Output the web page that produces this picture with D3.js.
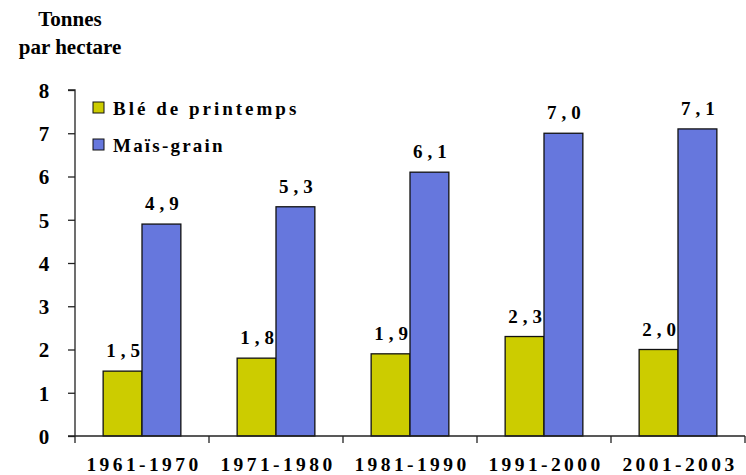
<!DOCTYPE html>
<html>
<head>
<meta charset="UTF-8">
<script src="https://d3js.org/d3.v7.min.js"></script>
</head>
<body style="margin:0">
<svg width="746" height="475"></svg>
<script>
  // donnees
  var periodes = ["1961-1970", "1971-1980", "1981-1990", "1991-2000", "2001-2003"];
  var series = ["Bl\u00e9 de printemps", "Ma\u00efs-grain"];
  var ble = [1.5, 1.8, 1.9, 2.3, 2.0];
  var mais = [4.9, 5.3, 6.1, 7.0, 7.1];
  var couleurs = ["#cccc00", "#6677dd"];
  var yTicks = [0, 1, 2, 3, 4, 5, 6, 7, 8];

  function serif(sel, taille) {
    return sel.attr("font-family", "Liberation Serif")
      .style("font-family", "'Liberation Serif'")
      .attr("font-weight", "bold")
      .attr("font-size", taille).attr("fill", "#000");
  }

  var svg = d3.select("svg");
  var x0 = 75, x1 = 745, yTop = 90, yBase = 436;

  var x = d3.scaleBand().domain(periodes).range([x0, x1]).paddingInner(0.42).paddingOuter(0.21);
  var xs = d3.scaleBand().domain(series).range([0, x.bandwidth()]);
  var y = d3.scaleLinear().domain([0, 8]).range([yBase, yTop]);

  var donnees = periodes.map(function (p, i) {
    return { periode: p, valeurs: [ble[i], mais[i]] };
  });

  // barres
  var groupes = svg.append("g").selectAll("g").data(donnees).enter().append("g")
    .attr("transform", function (d) { return "translate(" + x(d.periode) + ",0)"; });

  groupes.selectAll("rect").data(function (d) {
    return d.valeurs.map(function (v, j) { return { serie: series[j], v: v, j: j }; });
  }).enter().append("rect")
    .attr("x", function (d) { return xs(d.serie); })
    .attr("y", function (d) { return y(d.v); })
    .attr("width", xs.bandwidth())
    .attr("height", function (d) { return yBase - y(d.v); })
    .attr("fill", function (d) { return couleurs[d.j]; })
    .attr("stroke", "#111")
    .attr("stroke-width", 1.3);

  var etiquettes = groupes.selectAll("text").data(function (d) {
    return d.valeurs.map(function (v, j) { return { serie: series[j], v: v }; });
  }).enter().append("text")
    .attr("x", function (d) { return xs(d.serie) + xs.bandwidth() / 2 + 3; })
    .attr("y", function (d) { return y(d.v) - 14; })
    .attr("text-anchor", "middle")
    .attr("letter-spacing", 5)
    .text(function (d) { return d3.format(".1f")(d.v).replace(".", ","); });
  serif(etiquettes, 19);

  // axe y
  var axeY = svg.append("g").attr("transform", "translate(" + x0 + ",0)")
    .call(d3.axisLeft(y).tickValues(yTicks).tickSize(7).tickFormat(d3.format("d")));
  axeY.attr("font-family", "Liberation Serif");
  axeY.select(".domain").attr("stroke", "#222").attr("stroke-width", 1.3).attr("d", "M-7," + yTop + "H0V" + yBase);
  axeY.selectAll(".tick line").attr("stroke", "#222").attr("stroke-width", 1.3);
  serif(axeY.selectAll(".tick text"), 21).attr("x", -31).attr("dy", "0.35em")
    .attr("text-anchor", "middle");

  // axe x
  var axeX = svg.append("g").attr("transform", "translate(0," + yBase + ")");
  axeX.append("line").attr("x1", x0 - 7).attr("x2", x1).attr("y1", 0).attr("y2", 0)
    .attr("stroke", "#222").attr("stroke-width", 1.3);
  var pas = (x1 - x0) / periodes.length;
  axeX.selectAll("line.t").data(d3.range(periodes.length + 1)).enter().append("line")
    .attr("class", "t")
    .attr("x1", function (i) { return x0 + i * pas; })
    .attr("x2", function (i) { return x0 + i * pas; })
    .attr("y1", 0).attr("y2", 7)
    .attr("stroke", "#222").attr("stroke-width", 1.3);
  var libX = axeX.selectAll("text").data(periodes).enter().append("text")
    .attr("x", function (p) { return x(p) + x.bandwidth() / 2 + 2; })
    .attr("y", 35)
    .attr("text-anchor", "middle")
    .attr("letter-spacing", 3.4)
    .text(function (p) { return p; });
  serif(libX, 19.5);

  // titre de l'axe
  serif(svg.append("text").attr("x", 70).attr("y", 26).attr("text-anchor", "middle").text("Tonnes"), 21);
  serif(svg.append("text").attr("x", 70).attr("y", 54).attr("text-anchor", "middle").text("par hectare"), 21);

  // legende
  var legende = svg.append("g").selectAll("g").data(series).enter().append("g")
    .attr("transform", function (d, i) { return "translate(93," + (102 + i * 37) + ")"; });
  legende.append("rect").attr("width", 11).attr("height", 11)
    .attr("fill", function (d, i) { return couleurs[i]; })
    .attr("stroke", "#111").attr("stroke-width", 1);
  serif(legende.append("text").attr("x", 20).attr("y", 13)
    .attr("letter-spacing", function (d, i) { return i === 0 ? 3 : 2.2; })
    .text(function (d) { return d; }), 19);
</script>
</body>
</html>
